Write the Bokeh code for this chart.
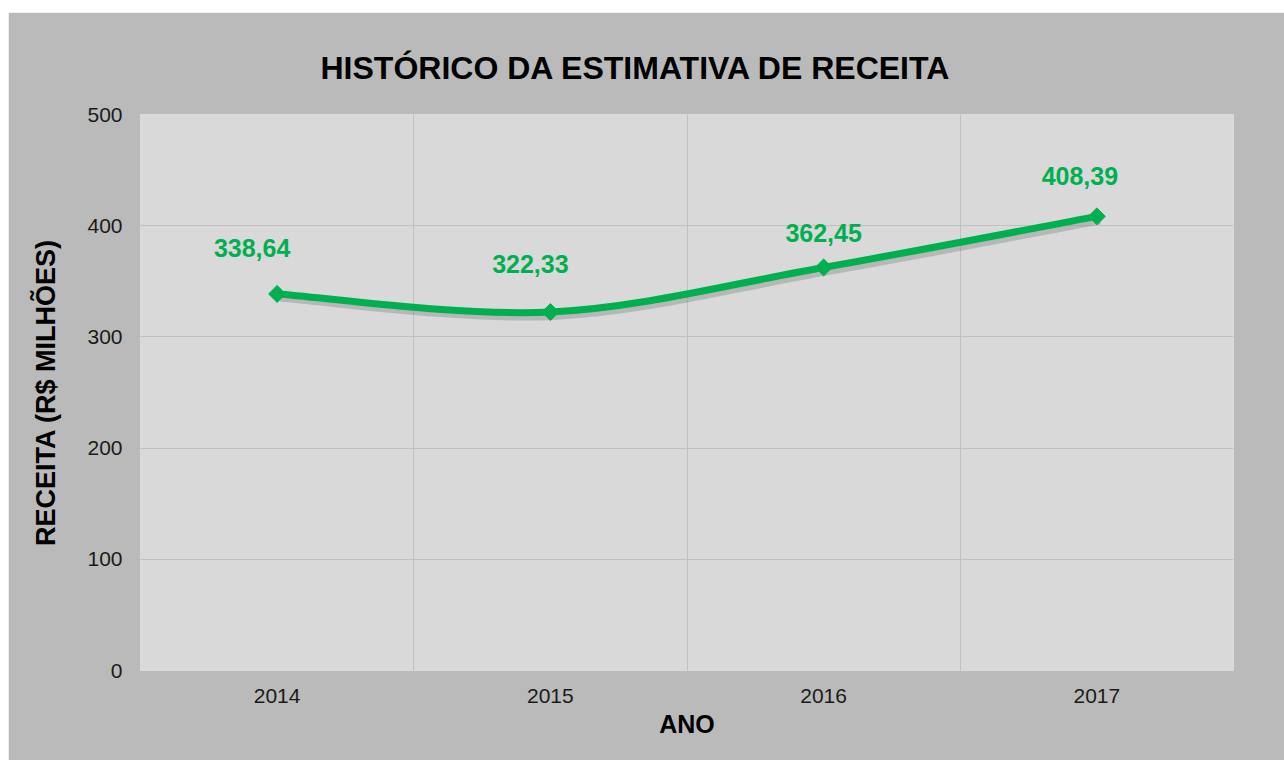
import math
from bokeh.plotting import figure
from bokeh.models import Range1d, FixedTicker, SingleIntervalTicker, ColumnDataSource
from bokeh.embed import file_html
from bokeh.resources import INLINE
from bokeh.core.properties import value

# ---- data ----
years = ["2014", "2015", "2016", "2017"]
receita = [338.64, 322.33, 362.45, 408.39]
labels = ["338,64", "322,33", "362,45", "408,39"]

# ---- style ----
GREEN = "#00b050"
OUTER_BG = "#bababa"
PLOT_BG = "#d9d9d9"
GRID = "#c0c0c0"
FONT = "Liberation Sans"
label_dx = [-25, -20, 0, -17]
label_dy = [-46, -48, -34, -40]

n = len(years)
xs = [i + 0.5 for i in range(n)]

p = figure(width=1276, height=748, output_backend="svg", toolbar_location=None,
           x_range=Range1d(0, n), y_range=Range1d(0, 500),
           min_border_left=132, min_border_right=51, min_border_top=102,
           min_border_bottom=90)
p.margin = (12, 0, 0, 8)

p.background_fill_color = PLOT_BG
p.border_fill_color = OUTER_BG
p.outline_line_color = None

# title
p.title.text = "HISTÓRICO DA ESTIMATIVA DE RECEITA"
p.title.text_font = FONT
p.title.text_font_size = "32px"
p.title.text_font_style = "bold"
p.title.text_color = "#000000"
p.title.align = "left"
p.title.offset = 180
p.title.standoff = 58

# axes
xa = p.xaxis[0]
xa.ticker = FixedTicker(ticks=xs)
xa.major_label_overrides = {x: y for x, y in zip(xs, years)}
ya = p.yaxis[0]
ya.ticker = SingleIntervalTicker(interval=100)
for ax in (xa, ya):
    ax.axis_line_color = None
    ax.major_tick_line_color = None
    ax.minor_tick_line_color = None
    ax.major_label_text_font = FONT
    ax.major_label_text_font_size = "21px"
    ax.major_label_text_color = "#1a1a1a"
    ax.axis_label_text_font = FONT
    ax.axis_label_text_font_style = "bold"
    ax.axis_label_text_color = "#000000"
xa.axis_label = "ANO"
xa.axis_label_text_font_size = "25px"
xa.major_label_standoff = 12
xa.axis_label_standoff = 4
ya.axis_label = "RECEITA (R$ MILHÕES)"
ya.axis_label_text_font_size = "27px"
ya.major_label_standoff = 12
ya.axis_label_standoff = 23

# grids
p.xgrid.ticker = FixedTicker(ticks=list(range(1, n)))
p.xgrid.grid_line_color = GRID
p.ygrid.ticker = SingleIntervalTicker(interval=100)
p.ygrid.grid_line_color = GRID

# smoothed line (Catmull-Rom -> cubic Bezier, Excel style)
pts = list(zip(xs, receita))
x0s, y0s, x1s, y1s, cx0, cy0, cx1, cy1 = [], [], [], [], [], [], [], []
for i in range(n - 1):
    pm = pts[max(i - 1, 0)]
    pa = pts[i]
    pb = pts[i + 1]
    pn = pts[min(i + 2, n - 1)]
    x0s.append(pa[0]); y0s.append(pa[1])
    x1s.append(pb[0]); y1s.append(pb[1])
    cx0.append(pa[0] + (pb[0] - pm[0]) / 6); cy0.append(pa[1] + (pb[1] - pm[1]) / 6)
    cx1.append(pb[0] - (pn[0] - pa[0]) / 6); cy1.append(pb[1] - (pn[1] - pa[1]) / 6)

# soft shadow
sh_dx, sh_dy = 0.012, -3.5
p.bezier(x0=[v + sh_dx for v in x0s], y0=[v + sh_dy for v in y0s],
         x1=[v + sh_dx for v in x1s], y1=[v + sh_dy for v in y1s],
         cx0=[v + sh_dx for v in cx0], cy0=[v + sh_dy for v in cy0],
         cx1=[v + sh_dx for v in cx1], cy1=[v + sh_dy for v in cy1],
         line_color="#6a6a6a", line_alpha=0.3, line_width=8)

p.bezier(x0=x0s, y0=y0s, x1=x1s, y1=y1s, cx0=cx0, cy0=cy0, cx1=cx1, cy1=cy1,
         line_color=GREEN, line_width=7)

src = ColumnDataSource(dict(x=xs, y=receita, lab=labels, dx=label_dx, dy=label_dy))
p.scatter("x", "y", source=src, marker="square", size=12, angle=math.pi / 4,
          fill_color=GREEN, line_color=GREEN)

p.text("x", "y", text="lab", source=src, x_offset="dx", y_offset="dy",
       text_align="center", text_baseline="middle",
       text_font=value(FONT), text_font_size="25px", text_font_style="bold",
       text_color=GREEN)

open("out.html", "w").write(file_html(p, INLINE))
